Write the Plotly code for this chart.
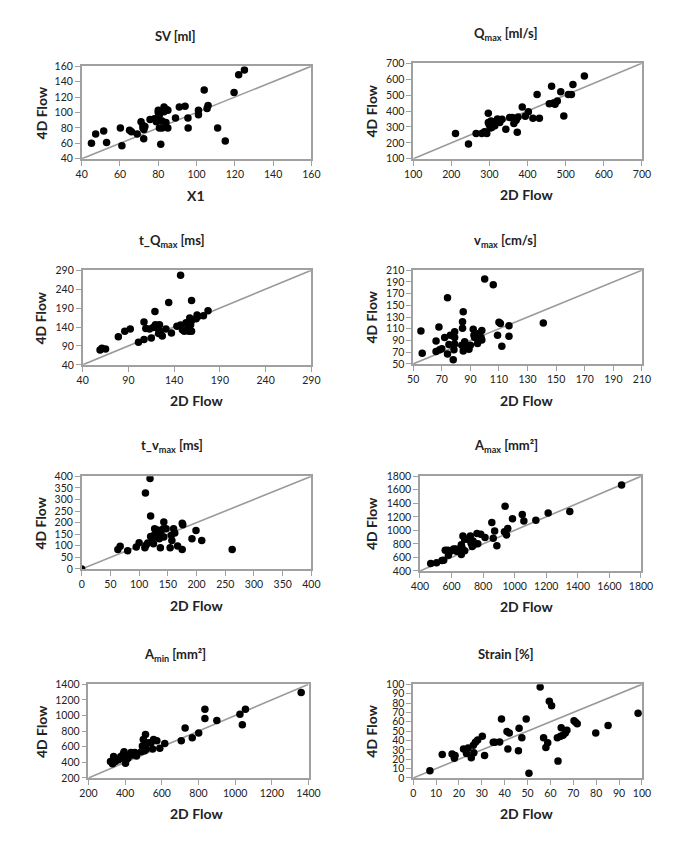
import plotly.graph_objects as go

W, H = 684, 850

# ---------------- data ----------------
sv_2d = [45.1, 47.3, 51.5, 53, 60.2, 61, 65, 66, 69, 71, 72, 72.5, 72, 73, 72.4, 75.7, 78, 79, 80, 80, 80.5, 80.6, 81.3, 82, 82, 83, 83, 84, 84.3, 85, 85, 89, 91, 94, 95.5, 95.6, 101, 101, 104, 105.5, 106, 111, 115, 119.6, 122, 125]
sv_4d = [60, 72, 76, 61, 80, 57, 77, 75, 72, 88, 83, 78, 80, 82, 66, 91, 92, 88, 103, 100, 96, 80, 59, 89, 80, 107, 101, 87, 104, 103, 80, 93, 107, 108, 93, 80, 103, 97, 129, 105, 109, 80, 63, 126, 149, 155]

qmax_2d = [211, 245, 265, 280, 287, 293, 297, 297, 299, 302, 304, 306, 310, 314, 318, 321, 327, 333, 343, 353, 360, 364, 370, 373, 375, 386, 394, 402, 414, 425, 431, 457, 463, 468, 472, 478, 487, 495, 507, 515, 519, 549]
qmax_4d = [259, 193, 259, 259, 270, 259, 386, 328, 317, 293, 338, 297, 317, 307, 334, 350, 328, 348, 286, 359, 359, 322, 342, 266, 363, 425, 367, 396, 355, 504, 355, 446, 555, 450, 442, 462, 520, 369, 504, 504, 566, 620]

tq_2d = [59, 61, 65, 79, 86, 92, 101, 107, 107, 109, 113, 115, 117, 119, 119.5, 121, 123, 124, 125, 127, 131, 134, 137, 143, 147, 147, 149, 151, 153, 155, 156, 157, 158, 159, 159, 159, 164, 165, 166, 172, 177]
tq_4d = [79, 84, 82, 114, 129, 135, 100, 107, 153, 136, 135, 111, 139, 181, 146, 138, 123, 146, 129, 116, 135, 205, 124, 142, 145, 277, 133, 129, 151, 138, 129, 164, 146, 210, 157, 129, 162, 172, 168, 170, 183]

vmax_2d = [55.4, 56.3, 66, 66, 68, 68.5, 70, 72, 74, 74, 75, 76, 78, 78.5, 79, 79, 79, 84, 84.5, 84.5, 85, 85, 86, 87.5, 89, 90, 92, 92.5, 93, 95, 96, 97.5, 98, 98, 100, 106, 109, 110, 111, 112, 117, 117, 141]
vmax_4d = [106, 68, 89, 71, 113, 74, 76, 95, 163, 67, 83, 99, 57, 74, 84, 95, 105, 82, 111, 122, 139, 72, 88, 78, 75, 82, 109, 99, 95, 85, 102, 95, 91, 107, 195, 185, 99, 121, 119, 80, 97, 115, 120]

tv_2d = [0, 63, 67, 80, 95, 100, 110, 112, 111, 115, 119, 120, 120, 123, 126, 127, 125, 131, 132, 135, 137, 138, 142, 143, 143, 147, 154, 156, 157, 160, 162, 167, 175, 175, 176, 192, 199, 209, 262]
tv_4d = [0, 84, 98, 79, 95, 113, 91, 102, 328, 112, 390, 228, 140, 130, 145, 173, 109, 147, 168, 130, 92, 159, 173, 203, 138, 173, 92, 145, 123, 173, 155, 99, 197, 84, 191, 130, 166, 123, 84]

amax_2d = [468, 505, 539, 550, 560, 576, 580, 593, 613, 625, 631, 648, 662, 662, 666, 672, 683, 683, 703, 715, 719, 724, 731, 736, 740, 761, 766, 785, 812, 855, 864, 873, 887, 935, 939, 949, 956, 986, 1048, 1058, 1134, 1212, 1349, 1677]
amax_4d = [511, 521, 555, 559, 704, 704, 632, 690, 724, 724, 690, 724, 641, 786, 748, 917, 700, 868, 868, 883, 917, 810, 762, 844, 786, 955, 800, 941, 893, 1115, 883, 989, 772, 979, 1356, 931, 1028, 1172, 1235, 1139, 1148, 1255, 1279, 1670]

amin_2d = [320, 331, 337, 346, 364, 376, 390, 394, 399, 402, 406, 415, 424, 432, 441, 453, 462, 488, 494, 499, 506, 511, 515, 527, 541, 550, 555, 573, 589, 616, 706, 727, 766, 801, 835, 835, 900, 1026, 1039, 1056, 1360]
amin_4d = [411, 381, 474, 411, 432, 474, 507, 537, 453, 389, 432, 453, 495, 525, 495, 525, 482, 537, 608, 693, 550, 756, 571, 651, 651, 571, 693, 676, 579, 642, 676, 840, 714, 777, 1080, 962, 937, 1017, 882, 1080, 1295]

strain_2d = [7.3, 12.7, 17, 18, 18.3, 22, 23.3, 24, 25.4, 26.3, 26.5, 27.2, 28.2, 30.2, 31.2, 35, 35.7, 37.8, 38.6, 41, 41.4, 42, 46, 46.3, 47.5, 49.4, 50.6, 55.5, 57, 58, 58.8, 59.5, 60.5, 63.3, 63, 64.4, 64.7, 65.5, 66.5, 67.2, 70.3, 71, 71.7, 79.8, 85.2, 98.3]
strain_4d = [7.6, 25, 25.6, 21, 24, 31, 26, 32, 21.5, 35, 27, 38, 40.5, 44.6, 24, 38, 38, 38.4, 63, 49.5, 31, 48, 29, 53, 43, 63, 5, 97, 43, 32.5, 37.7, 82, 77, 18, 43, 44.6, 53.6, 45.7, 48, 51, 61, 59.5, 57.8, 48, 56, 69]

titles = ["SV [ml]", "Q<sub>max</sub> [ml/s]", "t_Q<sub>max</sub> [ms]", "v<sub>max</sub> [cm/s]",
          "t_v<sub>max</sub> [ms]", "A<sub>max</sub> [mm²]", "A<sub>min</sub> [mm²]", "Strain [%]"]
x_titles = ["X1", "2D Flow", "2D Flow", "2D Flow", "2D Flow", "2D Flow", "2D Flow", "2D Flow"]
y_title = "4D Flow"
axis_ranges = [(40, 160, 20), (100, 700, 100), (40, 290, 50), (50, 210, 20),
               (0, 400, 50), (400, 1800, 200), (200, 1400, 200), (0, 100, 10)]

series = [(sv_2d, sv_4d), (qmax_2d, qmax_4d), (tq_2d, tq_4d), (vmax_2d, vmax_4d),
          (tv_2d, tv_4d), (amax_2d, amax_4d), (amin_2d, amin_4d), (strain_2d, strain_4d)]

# ---------------- layout (pixel boxes) ----------------
boxes = [(75, 312, 61, 155), (417, 653, 58, 155), (76, 312, 268, 364), (417, 653, 268, 363),
         (75, 312, 477, 571), (424, 652, 477, 573), (82, 309, 688, 783), (417, 653, 688, 783)]
title_pos = [(172, 30), (512, 28), (168, 238), (512, 238), (168, 446), (513, 446), (171, 658), (513, 657)]
xtitle_pos = [(193, 192), (534, 191), (193, 400), (534, 400), (193, 608), (534, 609), (193, 819), (534, 819)]
ytitle_x = [33, 374, 33, 374, 33, 374, 33, 374]

FONT = "Lato, 'Open Sans', 'Liberation Sans', sans-serif"
AX_COL = "#A0A0A0"

fig = go.Figure()
layout = dict(width=W, height=H, margin=dict(l=0, r=0, t=0, b=0),
              paper_bgcolor="white", plot_bgcolor="white", showlegend=False,
              font=dict(family=FONT, color="#222"))
annotations = []

for i, ((xs, ys), (lo, hi, step), (x0, x1, y0, y1)) in enumerate(zip(series, axis_ranges, boxes)):
    n = "" if i == 0 else str(i + 1)
    xa, ya = "x" + n, "y" + n
    fig.add_trace(go.Scatter(x=[lo, hi], y=[lo, hi], mode="lines", xaxis=xa, yaxis=ya,
                             line=dict(color="#9A9A9A", width=1.6), hoverinfo="skip"))
    fig.add_trace(go.Scatter(x=xs, y=ys, mode="markers", xaxis=xa, yaxis=ya,
                             marker=dict(color="black", size=7.5, line=dict(width=0))))
    tickvals = list(range(lo, hi + 1, step))
    common = dict(range=[lo, hi], tickvals=tickvals, showgrid=False, zeroline=False,
                  showline=True, linecolor=AX_COL, linewidth=1.5, mirror=True,
                  ticks="outside", ticklen=5, tickcolor=AX_COL, tickwidth=1,
                  tickfont=dict(size=10.5, family=FONT, color="#222"))
    layout["xaxis" + n] = dict(domain=[x0 / W, x1 / W], anchor=ya, **common)
    layout["yaxis" + n] = dict(domain=[1 - y1 / H, 1 - y0 / H], anchor=xa, **common)

    tx, ty = title_pos[i]
    annotations.append(dict(text="<b>" + titles[i] + "</b>", x=tx / W, y=1 - ty / H,
                            xref="paper", yref="paper", showarrow=False,
                            xanchor="center", yanchor="middle",
                            font=dict(size=13, family=FONT, color="#222")))
    xx, xy = xtitle_pos[i]
    annotations.append(dict(text="<b>" + x_titles[i] + "</b>", x=xx / W, y=1 - xy / H,
                            xref="paper", yref="paper", showarrow=False,
                            xanchor="center", yanchor="middle",
                            font=dict(size=14, family=FONT, color="#222")))
    annotations.append(dict(text="<b>" + y_title + "</b>", x=ytitle_x[i] / W,
                            y=1 - ((y0 + y1) / 2) / H, textangle=-90,
                            xref="paper", yref="paper", showarrow=False,
                            xanchor="center", yanchor="middle",
                            font=dict(size=14, family=FONT, color="#222")))

layout["annotations"] = annotations
fig.update_layout(**layout)
fig.write_html("out.html", config={"displayModeBar": False},
               post_script="document.body.style.margin='0';document.body.style.overflow='hidden';")
